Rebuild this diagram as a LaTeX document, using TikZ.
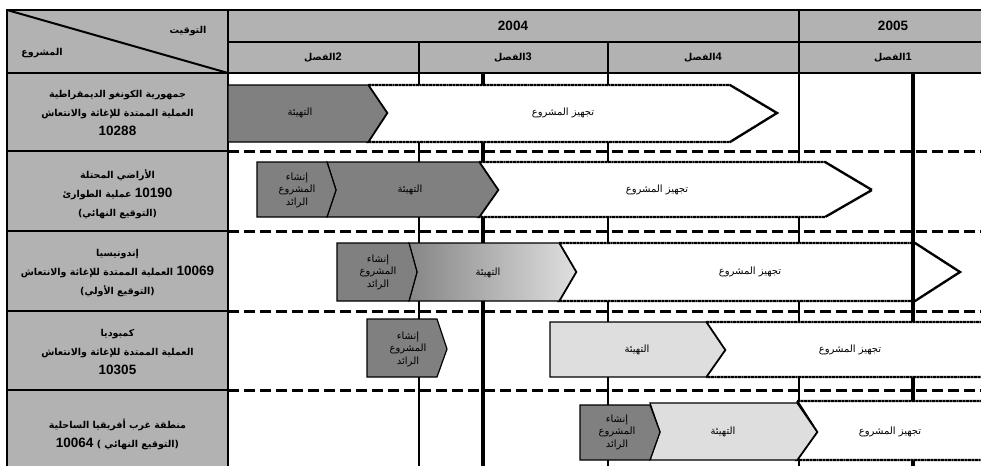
\documentclass[tikz,border=0pt]{standalone}
\usepackage{fontspec}
\setmainfont{Liberation Sans}
\newfontfamily\arab[Script=Arabic]{DejaVu Sans}
\TeXXeTstate=1
\newcommand{\artx}[1]{{\arab\beginR #1\endR}}
\newcommand{\dg}[1]{{\rmfamily\bfseries\fontsize{13.5}{19}\selectfont\beginL #1\endL}}
\newcommand{\dq}[1]{{\rmfamily\bfseries\fontsize{11}{19}\selectfont\beginL #1\endL}}
\definecolor{hdr}{gray}{0.70}
\definecolor{dk}{gray}{0.50}
\definecolor{lt}{gray}{0.87}
\begin{document}
\begin{tikzpicture}[x=1pt,y=-1pt,
  tline/.style={line width=2pt},
  thickv/.style={line width=4pt},
  dashh/.style={line width=3pt, dash pattern=on 11pt off 5pt},
  whitebar/.style={fill=white, draw=black, line width=2.4pt, dash pattern=on 1pt off 0.35pt},
  darkbar/.style={fill=dk, draw=black, line width=1.2pt},
  lightbar/.style={fill=lt, draw=black, line width=1.2pt},
  rowlbl/.style={align=center, inner sep=0pt, font=\arab\bfseries\fontsize{9.5}{19}\selectfont},
  hdrlbl/.style={inner sep=0pt, font=\arab\bfseries\fontsize{9.5}{12}\selectfont},
  phase/.style={align=center, inner sep=0pt, font=\arab\fontsize{10}{12.5}\selectfont},
]
\useasboundingbox (0,0) rectangle (981,466);
% fills
\fill[hdr] (7,10) rectangle (981,73);
\fill[hdr] (7,73) rectangle (228,466);
% body grid
\draw[tline] (419,42) -- (419,466);
\draw[tline] (608,42) -- (608,466);
\draw[tline] (799,10) -- (799,466);
\draw[thickv] (483,73) -- (483,466);
\draw[thickv] (913,73) -- (913,466);
\foreach \yy in {151,231,311,390}{
  \draw[dashh] (228,\yy) -- (981,\yy);
  \draw[tline] (7,\yy) -- (228,\yy);
}
% table frame
\draw[tline] (7,466) -- (7,10) -- (981,10);
\draw[tline] (228,42) -- (981,42);
\draw[tline] (7,73) -- (981,73);
\draw[tline] (228,10) -- (228,466);
\draw[tline] (7,10) -- (228,73);
% header texts
\node[hdrlbl] (hT) at (188,31) {\artx{التوقيت}};
\node[hdrlbl] (hP) at (42,53) {\artx{المشروع}};
\node[inner sep=0pt, font=\bfseries\fontsize{13.5}{16}\selectfont] (y4) at (513,26) {2004};
\node[inner sep=0pt, font=\bfseries\fontsize{13.5}{16}\selectfont] (y5) at (893,26) {2005};
\node[hdrlbl] (q2) at (323,58) {\artx{\dq{2}الفصل}};
\node[hdrlbl] (q3) at (513,58) {\artx{\dq{3}الفصل}};
\node[hdrlbl] (q4) at (703,58) {\artx{\dq{4}الفصل}};
\node[hdrlbl] (q1) at (893,58) {\artx{\dq{1}الفصل}};
% row labels
\node[rowlbl] (p1) at (117.5,113) {\artx{جمهورية الكونغو الديمقراطية}\\ \artx{العملية الممتدة للإغاثة والانتعاش}\\ \dg{10288}};
\node[rowlbl] (p2) at (117.5,194) {\artx{الأراضي المحتلة}\\ \artx{\dg{10190} عملية الطوارئ}\\ \artx{(التوقيع النهائي)}};
\node[rowlbl] (p3) at (117.5,273) {\artx{إندونيسيا}\\ \artx{\dg{10069} العملية الممتدة للإغاثة والانتعاش}\\ \artx{(التوقيع الأولي)}};
\node[rowlbl] (p4) at (117.5,352) {\artx{كمبوديا}\\ \artx{العملية الممتدة للإغاثة والانتعاش}\\ \dg{10305}};
\node[rowlbl] (p5) at (117.5,434) {\artx{منطقة غرب أفريقيا الساحلية}\\ \artx{(التوقيع النهائي ) \dg{10064}}};
% row 1 bars
\path[whitebar] (368,85) -- (730,85) -- (777,113) -- (730,142) -- (368,142) -- (387,113) -- cycle;
\path[darkbar] (228,85) -- (368,85) -- (387,113) -- (368,142) -- (228,142) -- cycle;
% row 2 bars
\path[whitebar] (479,162) -- (825,162) -- (872,190) -- (825,217) -- (479,217) -- (498,190) -- cycle;
\path[darkbar] (327,162) -- (479,162) -- (498,190) -- (479,217) -- (327,217) -- (336,190) -- cycle;
\path[darkbar] (257,162) -- (327,162) -- (336,190) -- (327,217) -- (257,217) -- cycle;
% row 3 bars
\path[whitebar] (559,243) -- (915,243) -- (960,272) -- (915,301) -- (559,301) -- (576,272) -- cycle;
\path[draw=black, line width=1.2pt, left color=gray!95, right color=gray!25] (409,243) -- (559,243) -- (576,272) -- (559,301) -- (409,301) -- (417,272) -- cycle;
\path[darkbar] (337,243) -- (409,243) -- (417,272) -- (409,301) -- (337,301) -- cycle;
\draw[thickv] (913,243) -- (913,301);
% row 4 bars
\path[whitebar] (706,322) -- (995,322) -- (995,377) -- (706,377) -- (725,350) -- cycle;
\path[lightbar] (550,322) -- (706,322) -- (725,350) -- (706,377) -- (550,377) -- cycle;
\path[darkbar] (367,319) -- (437,319) -- (447,349) -- (437,377) -- (367,377) -- cycle;
% row 5 bars
\path[whitebar] (797,401) -- (995,401) -- (995,460) -- (797,460) -- (817,432) -- cycle;
\path[lightbar] (650,403) -- (797,403) -- (817,432) -- (797,460) -- (650,460) -- (660,432) -- cycle;
\path[darkbar] (580,405) -- (650,405) -- (660,432) -- (650,460) -- (580,460) -- cycle;
% bar labels
\node[phase] (r1a) at (300,113) {\artx{التهيئة}};
\node[phase] (r1b) at (563,113) {\artx{تجهيز المشروع}};
\node[phase] (r2a) at (297,190) {\artx{إنشاء}\\ \artx{المشروع}\\ \artx{الرائد}};
\node[phase] (r2b) at (410,190) {\artx{التهيئة}};
\node[phase] (r2c) at (657,190) {\artx{تجهيز المشروع}};
\node[phase] (r3a) at (378,272) {\artx{إنشاء}\\ \artx{المشروع}\\ \artx{الرائد}};
\node[phase] (r3b) at (488,273) {\artx{التهيئة}};
\node[phase] (r3c) at (750,272) {\artx{تجهيز المشروع}};
\node[phase] (r4a) at (408,349) {\artx{إنشاء}\\ \artx{المشروع}\\ \artx{الرائد}};
\node[phase] (r4b) at (637,350) {\artx{التهيئة}};
\node[phase] (r4c) at (850,350) {\artx{تجهيز المشروع}};
\node[phase] (r5a) at (617,432) {\artx{إنشاء}\\ \artx{المشروع}\\ \artx{الرائد}};
\node[phase] (r5b) at (723,432) {\artx{التهيئة}};
\node[phase] (r5c) at (890,432) {\artx{تجهيز المشروع}};
\end{tikzpicture}
\end{document}
